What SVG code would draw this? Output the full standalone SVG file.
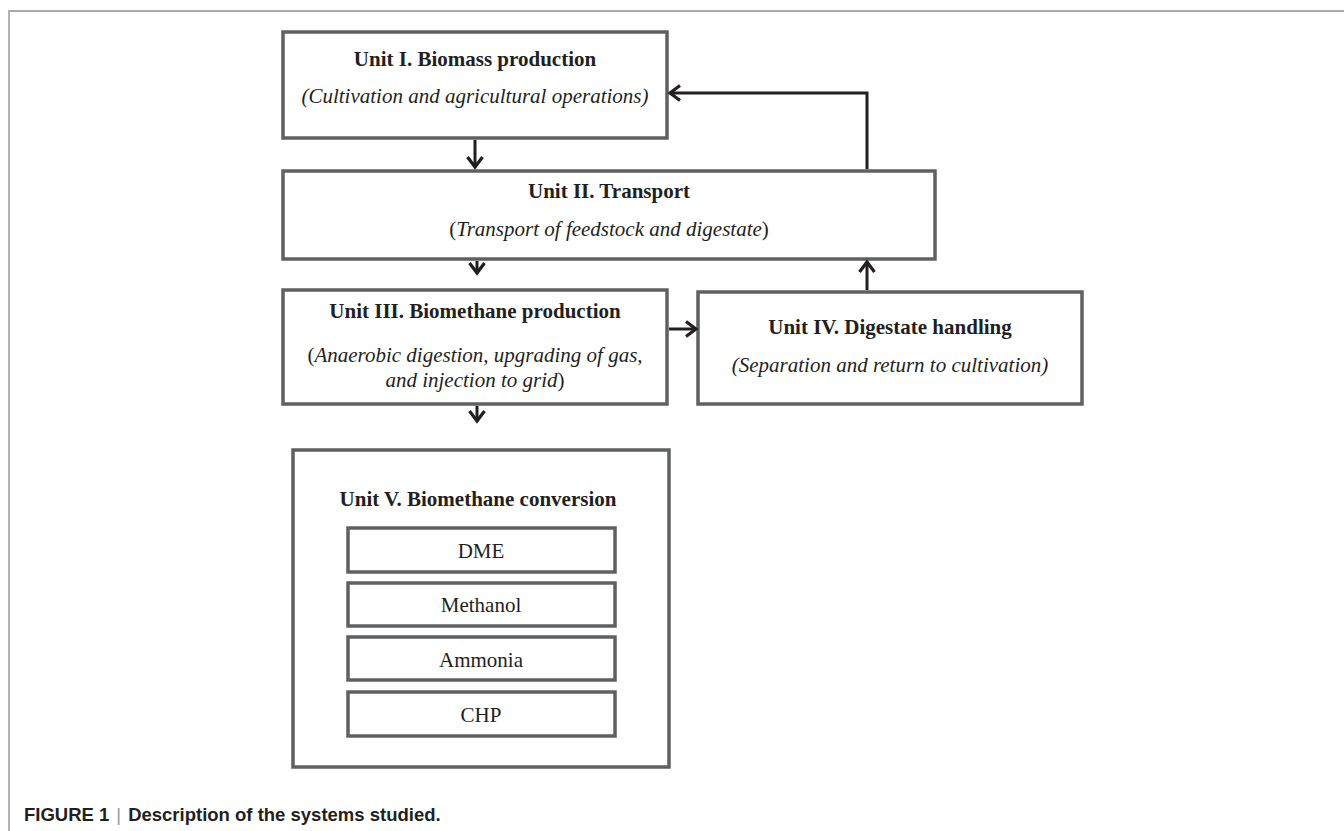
<svg xmlns="http://www.w3.org/2000/svg" width="1344" height="831" viewBox="0 0 1344 831">
<style>
.box{fill:#fff;stroke:#5f6063;stroke-width:3.5}
.sub{fill:#fff;stroke:#5f6063;stroke-width:3.5}
.t{font-family:"Liberation Serif","Times New Roman",serif;font-size:21px;fill:#231f20;text-anchor:middle}
.b{font-weight:bold}
.i{font-style:italic}
.con{fill:none;stroke:#231f20;stroke-width:3}
.cap{font-family:"Liberation Sans",Arial,sans-serif;font-size:18.5px;font-weight:bold;fill:#231f20}
</style>
<defs>
<marker id="ah" viewBox="-12 -9 14 18" refX="0" refY="0" markerWidth="14" markerHeight="18" markerUnits="userSpaceOnUse" orient="auto" overflow="visible">
<path d="M-10,-7.5 L0,0 L-10,7.5" fill="none" stroke="#231f20" stroke-width="3.2"/>
</marker>
</defs>
<rect width="1344" height="831" fill="#fff"/>
<g id="frame">
<path d="M9,831 V11 H1344" fill="none" stroke="#aaaaaa" stroke-width="1.8"/>
</g>
<g id="unit1">
<rect class="box" x="283" y="32" width="384" height="106"/>
<text class="t b" x="475" y="66">Unit I. Biomass production</text>
<text class="t i" x="475" y="103">(Cultivation and agricultural operations)</text>
</g>
<g id="unit2">
<rect class="box" x="283" y="171" width="652" height="88"/>
<text class="t b" x="609" y="198">Unit II. Transport</text>
<text class="t" x="609" y="236">(<tspan class="i">Transport of feedstock and digestate</tspan>)</text>
</g>
<g id="unit3">
<rect class="box" x="283" y="290" width="384" height="114"/>
<text class="t b" x="475" y="318">Unit III. Biomethane production</text>
<text class="t" x="475" y="362">(<tspan class="i">Anaerobic digestion, upgrading of gas,</tspan></text>
<text class="t" x="475" y="387"><tspan class="i">and injection to grid</tspan>)</text>
</g>
<g id="unit4">
<rect class="box" x="698" y="292" width="384" height="112"/>
<text class="t b" x="890" y="334">Unit IV. Digestate handling</text>
<text class="t i" x="890" y="372">(Separation and return to cultivation)</text>
</g>
<g id="unit5">
<rect class="box" x="293" y="450" width="376" height="317"/>
<text class="t b" x="478" y="506">Unit V. Biomethane conversion</text>
<g id="dme"><rect class="sub" x="348" y="528" width="267" height="44"/><text class="t" x="481" y="558">DME</text></g>
<g id="methanol"><rect class="sub" x="348" y="583" width="267" height="43"/><text class="t" x="481" y="612">Methanol</text></g>
<g id="ammonia"><rect class="sub" x="348" y="637" width="267" height="43"/><text class="t" x="481" y="667">Ammonia</text></g>
<g id="chp"><rect class="sub" x="348" y="692" width="267" height="44"/><text class="t" x="481" y="722">CHP</text></g>
</g>
<g id="connectors">
<path class="con" d="M475,140 V167" marker-end="url(#ah)"/>
<path class="con" d="M477,261 V273" marker-end="url(#ah)"/>
<path class="con" d="M669,329 H696" marker-end="url(#ah)"/>
<path class="con" d="M867,290 V262" marker-end="url(#ah)"/>
<path class="con" d="M867,169 V93 H670" marker-end="url(#ah)"/>
<path class="con" d="M477,406 V421" marker-end="url(#ah)"/>
</g>
<g id="caption">
<text class="cap" x="24" y="821">FIGURE 1<tspan dx="7" font-weight="normal" fill="#999">|</tspan><tspan dx="7">Description of the systems studied.</tspan></text>
</g>
</svg>
